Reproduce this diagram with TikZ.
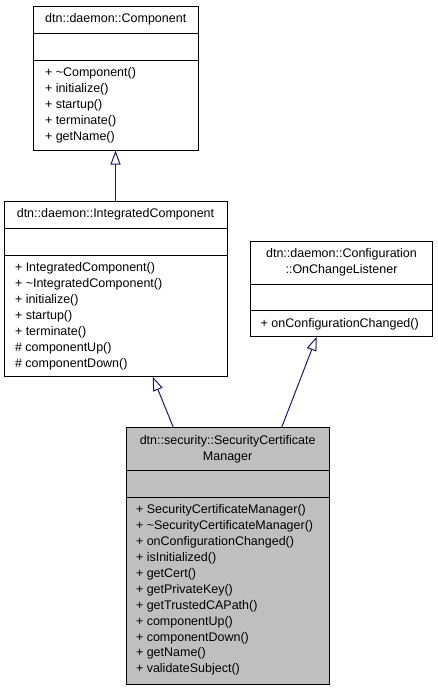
\documentclass[tikz,border=0pt]{standalone}
\usepackage{fontspec}
\setmainfont{Liberation Sans}
\usetikzlibrary{arrows.meta,calc}
\definecolor{edgeblue}{HTML}{191970}
\definecolor{boxgray}{HTML}{BFBFBF}
\begin{document}
\begin{tikzpicture}[x=1pt,y=-1pt,
  box/.style={draw=black,line width=1pt,rectangle,inner sep=0pt,outer sep=0pt},
  sep/.style={draw=black,line width=1pt},
  txt/.style={inner sep=0pt,outer sep=0pt,font=\fontsize{12.5}{15}\selectfont},
  meth/.style={txt,anchor=base west},
  ttl/.style={txt,anchor=base},
  inh/.style={draw=edgeblue,line width=1pt,-{Triangle[open,length=14pt,width=10pt,line width=1pt]}}]
\useasboundingbox (0,0) rectangle (437,691);
% Component
\node[box,fill=white,minimum width=164.5pt,minimum height=144.5pt] (comp) at (115.75,78.25) {};
\draw[sep] (33.5,33.5) -- (198,33.5);
\draw[sep] (33.5,60) -- (198,60);
\node[ttl] (ct) at (115.75,22.7) {dtn::daemon::Component};
\node[meth] (c1) at (45,76.5) {+ \textasciitilde Component()};
\node[meth] (c2) at (45,92.5) {+ initialize()};
\node[meth] (c3) at (45,108.5) {+ startup()};
\node[meth] (c4) at (45,124.5) {+ terminate()};
\node[meth] (c5) at (45,140.5) {+ getName()};
% IntegratedComponent
\node[box,fill=white,minimum width=223pt,minimum height=175.7pt] (integ) at (115.5,288.85) {};
\draw[sep] (4,228) -- (227,228);
\draw[sep] (4,255) -- (227,255);
\node[ttl] (it) at (115.5,217.7) {dtn::daemon::IntegratedComponent};
\node[meth] (i1) at (15,271.5) {+ IntegratedComponent()};
\node[meth] (i2) at (15,287.5) {+ \textasciitilde IntegratedComponent()};
\node[meth] (i3) at (15,303.5) {+ initialize()};
\node[meth] (i4) at (15,319.5) {+ startup()};
\node[meth] (i5) at (15,335.5) {+ terminate()};
\node[meth] (i6) at (15,351.5) {\# componentUp()};
\node[meth] (i7) at (15,367.5) {\# componentDown()};
% OnChangeListener
\node[box,fill=white,minimum width=181.6pt,minimum height=95.7pt] (lis) at (341.5,288.85) {};
\draw[sep] (250.7,284) -- (432.3,284);
\draw[sep] (250.7,310) -- (432.3,310);
\node[ttl] (lt1) at (341.5,257.7) {dtn::daemon::Configuration};
\node[ttl] (lt2) at (341.5,273.7) {::OnChangeListener};
\node[meth] (l1) at (260.7,327.7) {+ onConfigurationChanged()};
% SecurityCertificateManager
\node[box,fill=boxgray,minimum width=203.3pt,minimum height=257pt] (scm) at (227.65,555.8) {};
\draw[sep] (126,470.7) -- (329.3,470.7);
\draw[sep] (126,497.3) -- (329.3,497.3);
\node[ttl] (st1) at (227.65,444) {dtn::security::SecurityCertificate};
\node[ttl] (st2) at (227.65,460) {Manager};
\node[meth] (s1) at (136,513.8) {+ SecurityCertificateManager()};
\node[meth] (s2) at (136,529.7) {+ \textasciitilde SecurityCertificateManager()};
\node[meth] (s3) at (136,545.6) {+ onConfigurationChanged()};
\node[meth] (s4) at (136,561.5) {+ isInitialized()};
\node[meth] (s5) at (136,577.4) {+ getCert()};
\node[meth] (s6) at (136,593.3) {+ getPrivateKey()};
\node[meth] (s7) at (136,609.2) {+ getTrustedCAPath()};
\node[meth] (s8) at (136,625.1) {+ componentUp()};
\node[meth] (s9) at (136,641.0) {+ componentDown()};
\node[meth] (s10) at (136,656.9) {+ getName()};
\node[meth] (s11) at (136,672.8) {+ validateSubject()};
% connectors
\coordinate (ea) at ($(scm.north west)+(47.3,0)$);
\coordinate (eb) at ($(integ.south west)+(148.7,0)$);
\coordinate (ec) at ($(scm.north west)+(155.7,0)$);
\coordinate (ed) at ($(lis.south west)+(66,0)$);
\draw[inh] (integ.north) -- (integ.north |- comp.south);
\draw[inh] (ea) -- (eb);
\draw[inh] (ec) -- (ed);
\end{tikzpicture}
\end{document}
